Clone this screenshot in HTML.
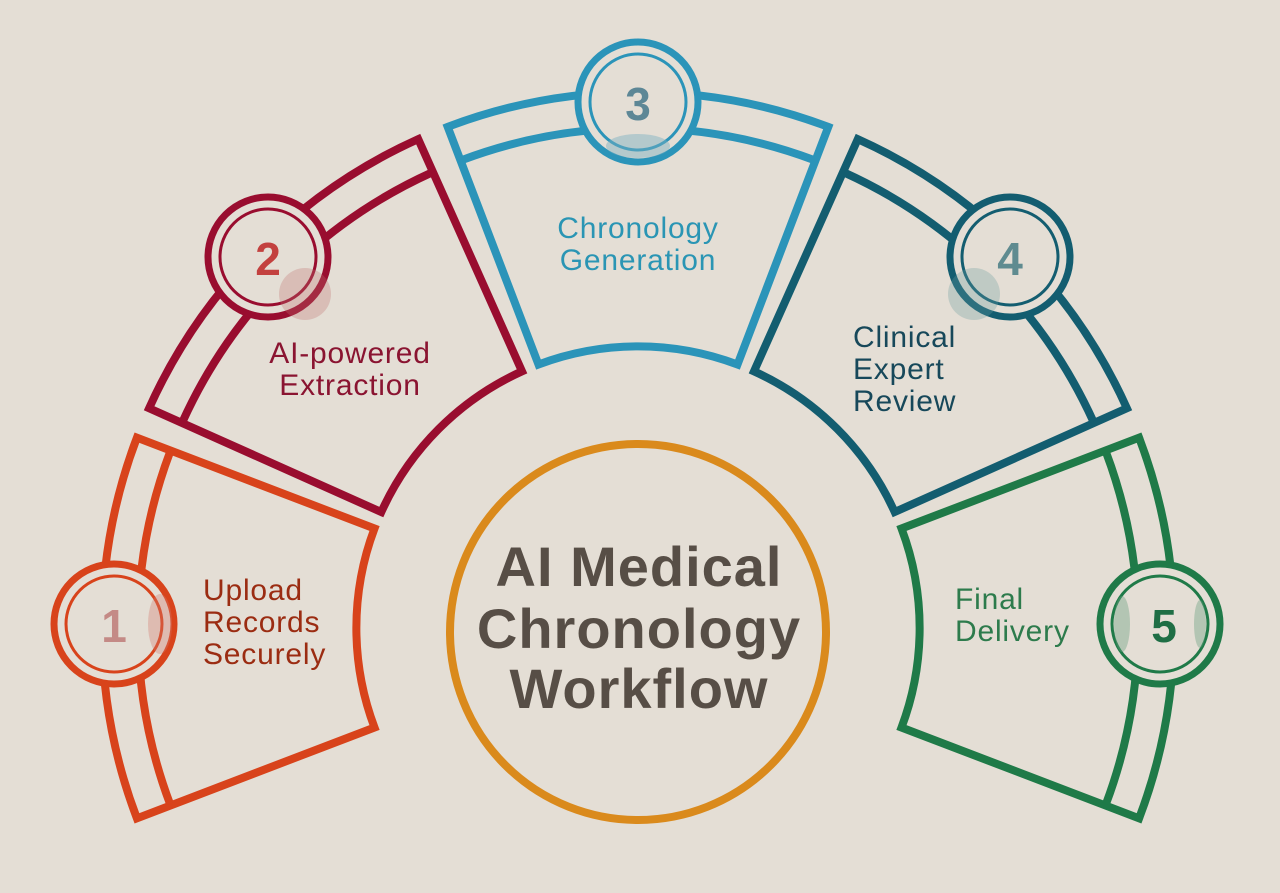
<!DOCTYPE html>
<html><head><meta charset="utf-8"><style>
html,body{margin:0;padding:0;background:#e4ded5;}
svg{display:block}
text{font-family:"Liberation Sans",sans-serif;}
</style></head><body>
<svg width="1280" height="893" viewBox="0 0 1280 893" xmlns="http://www.w3.org/2000/svg">
<rect width="1280" height="893" fill="#e4ded5"/>
<defs>
<g id="seg" fill="none" stroke-width="8" stroke-linejoin="miter">
<path d="M447.7,126.9 A536,536 0 0 1 828.3,126.9 L737.5,364.5 A282,282 0 0 0 538.5,364.5 Z"/>
<path d="M462.1,160 A500,500 0 0 1 813.9,160"/>
</g>
</defs>
<use href="#seg" stroke="#d8431b" transform="rotate(-90 638 628)"/>
<use href="#seg" stroke="#990d2f" transform="rotate(-45 638 628)"/>
<use href="#seg" stroke="#2b94b9" transform="rotate(0 638 628)"/>
<use href="#seg" stroke="#135d70" transform="rotate(45 638 628)"/>
<use href="#seg" stroke="#1f7a48" transform="rotate(90 638 628)"/>

<circle cx="638" cy="632" r="188" fill="none" stroke="#da8a1c" stroke-width="8"/>
<g font-size="56" font-weight="bold" fill="#574e46" text-anchor="middle" letter-spacing="1">
<text x="639" y="586">AI Medical</text>
<text x="639" y="648">Chronology</text>
<text x="639" y="708">Workflow</text>
</g>

<g stroke-width="7">
<circle cx="114" cy="624" r="60" fill="#e4ded5" stroke="#d8431b"/>
<circle cx="114" cy="624" r="48" fill="none" stroke="#d8431b" stroke-width="3"/>
<ellipse cx="160" cy="624" rx="12" ry="30" fill="#d47a70" opacity="0.35" stroke="none"/>
<text x="114" y="642" text-anchor="middle" font-size="46" font-weight="bold" fill="#c48a86" stroke="none">1</text>

<circle cx="268" cy="257" r="60" fill="#e4ded5" stroke="#990d2f"/>
<circle cx="268" cy="257" r="48" fill="none" stroke="#990d2f" stroke-width="3"/>
<circle cx="305" cy="294" r="26" fill="#c07070" opacity="0.3" stroke="none"/>
<text x="268" y="275" text-anchor="middle" font-size="46" font-weight="bold" fill="#c3413f" stroke="none">2</text>

<circle cx="638" cy="102" r="60" fill="#e4ded5" stroke="#2b94b9"/>
<circle cx="638" cy="102" r="48" fill="none" stroke="#2b94b9" stroke-width="3"/>
<ellipse cx="638" cy="146" rx="32" ry="12" fill="#7ab0c0" opacity="0.45" stroke="none"/>
<text x="638" y="120" text-anchor="middle" font-size="46" font-weight="bold" fill="#5d8796" stroke="none">3</text>

<circle cx="1010" cy="257" r="60" fill="#e4ded5" stroke="#135d70"/>
<circle cx="1010" cy="257" r="48" fill="none" stroke="#135d70" stroke-width="3"/>
<circle cx="974" cy="294" r="26" fill="#6a9aa0" opacity="0.3" stroke="none"/>
<text x="1010" y="275" text-anchor="middle" font-size="46" font-weight="bold" fill="#5f8b90" stroke="none">4</text>

<circle cx="1160" cy="624" r="60" fill="#e4ded5" stroke="#1f7a48"/>
<circle cx="1160" cy="624" r="48" fill="none" stroke="#1f7a48" stroke-width="3"/>
<ellipse cx="1122" cy="624" rx="8" ry="28" fill="#6aa080" opacity="0.4" stroke="none"/>
<ellipse cx="1200" cy="624" rx="6" ry="24" fill="#6aa080" opacity="0.4" stroke="none"/>
<text x="1164" y="642" text-anchor="middle" font-size="46" font-weight="bold" fill="#1f6e45" stroke="none">5</text>
</g>

<g font-size="30" letter-spacing="0.8">
<text x="203" y="600" fill="#9b2c12">Upload</text>
<text x="203" y="632" fill="#9b2c12">Records</text>
<text x="203" y="664" fill="#9b2c12">Securely</text>

<text x="350" y="363" text-anchor="middle" fill="#8a1431">AI-powered</text>
<text x="350" y="395" text-anchor="middle" fill="#8a1431">Extraction</text>

<text x="638" y="238" text-anchor="middle" fill="#2a95b4">Chronology</text>
<text x="638" y="270" text-anchor="middle" fill="#2a95b4">Generation</text>

<text x="853" y="347" fill="#17485a">Clinical</text>
<text x="853" y="379" fill="#17485a">Expert</text>
<text x="853" y="411" fill="#17485a">Review</text>

<text x="955" y="609" fill="#2d7b4c">Final</text>
<text x="955" y="641" fill="#2d7b4c">Delivery</text>
</g>
</svg>
</body></html>
